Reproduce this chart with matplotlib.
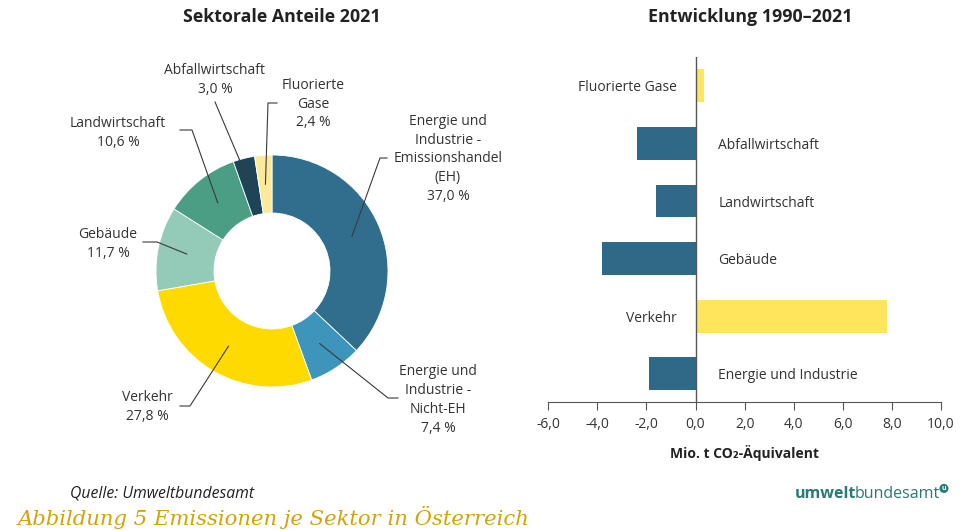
import numpy as np
import matplotlib
matplotlib.use("Agg")
import matplotlib.pyplot as plt
from matplotlib.lines import Line2D

plt.rcParams['font.family'] = ['Open Sans', 'DejaVu Sans']

# ---------------- data ----------------
pie_labels = ["Energie und\nIndustrie -\nEmissionshandel\n(EH)", "Energie und\nIndustrie -\nNicht-EH",
              "Verkehr", "Gebäude", "Landwirtschaft", "Abfallwirtschaft", "Fluorierte\nGase"]
pie_values = [37.0, 7.4, 27.8, 11.7, 10.6, 3.0, 2.4]
pie_colors = ["#316e8e", "#3d95bc", "#ffda00", "#93cbb8", "#4b9e84", "#1d4557", "#fcea9c"]

bar_categories = ["Energie und Industrie", "Verkehr", "Gebäude", "Landwirtschaft",
                  "Abfallwirtschaft", "Fluorierte Gase"]
bar_values = [-1.9, 7.8, -3.8, -1.6, -2.4, 0.35]
bar_ticks = [-6, -4, -2, 0, 2, 4, 6, 8, 10]

W, H = 973, 531
fig = plt.figure(figsize=(W / 100, H / 100), dpi=100)

TXT = "#333333"
FS = 10

# ---------------- donut ----------------
cx, cy, R = 272, 271, 116
axp = fig.add_axes([(cx - R) / W, (H - cy - R) / H, 2 * R / W, 2 * R / H])
wedges, _ = axp.pie(pie_values, colors=pie_colors, startangle=90, counterclock=False,
                    radius=1, wedgeprops=dict(width=0.5, edgecolor="white", linewidth=0.6))
axp.set_xlim(-1, 1)
axp.set_ylim(-1, 1)
axp.set_axis_off()

# overlay in pixel coordinates for labels / leader lines
ov = fig.add_axes([0, 0, 1, 1])
ov.set_xlim(0, W)
ov.set_ylim(H, 0)
ov.set_axis_off()
ov.patch.set_alpha(0)

label_pos = [(448, 159), (438, 400), (147, 407), (108, 244), (118, 133), (215, 80), (313, 104)]
elbows = [[(387, 158), (380, 158)], [(398, 398), (388, 398)], [(180, 406), (190, 406)],
          [(143, 242), (157, 242)], [(180, 130), (192, 130)], [(215, 102)], [(277, 103), (268, 103)]]

total = sum(pie_values)
cum = 0
for lab, val, pos, elb in zip(pie_labels, pie_values, label_pos, elbows):
    mid = (cum + val / 2) / total
    cum += val
    ang = np.deg2rad(90 - 360 * mid)
    ex = cx + 0.75 * R * np.cos(ang)
    ey = cy - 0.75 * R * np.sin(ang)
    pts = list(elb) + [(ex, ey)]
    ov.add_line(Line2D([p[0] for p in pts], [p[1] for p in pts], color="#3a3a3a", lw=0.8))
    txt = f"{lab}\n{val:.1f} %".replace(".", ",")
    ov.text(pos[0], pos[1], txt, ha="center", va="center", fontsize=FS, color=TXT,
            linespacing=1.35)

fig.text(282 / W, 1 - 17 / H, "Sektorale Anteile 2021", ha="center", va="center",
         fontsize=12.8, fontweight="bold", color="#222222")
fig.text(750 / W, 1 - 17 / H, "Entwicklung 1990–2021", ha="center", va="center",
         fontsize=12.8, fontweight="bold", color="#222222")

# ---------------- bars ----------------
axb = fig.add_axes([548.3 / W, (H - 402) / H, 392.7 / W, 345 / H])
ypos = np.arange(len(bar_categories))
cols = ["#ffe55c" if v > 0 else "#2e6a87" for v in bar_values]
axb.barh(ypos, bar_values, height=0.57, color=cols)
axb.set_xlim(-6, 10)
axb.set_ylim(-0.49, 5.5)
axb.axvline(0, color="#555555", lw=1)
for s in ["top", "right", "left"]:
    axb.spines[s].set_visible(False)
axb.spines["bottom"].set_color("#555555")
axb.set_yticks([])
axb.set_xticks(bar_ticks)
axb.set_xticklabels([f"{t:.1f}".replace(".", ",") for t in bar_ticks], fontsize=FS, color=TXT)
axb.tick_params(axis="x", direction="out", length=6, color="#555555", pad=5)
for y, v, c in zip(ypos, bar_values, bar_categories):
    if v < 0:
        axb.annotate(c, xy=(0, y), xytext=(16.5, -1.5), textcoords="offset points",
                     ha="left", va="center", fontsize=FS, color=TXT)
    else:
        axb.annotate(c, xy=(0, y), xytext=(-13.5, -1.5), textcoords="offset points",
                     ha="right", va="center", fontsize=FS, color=TXT)
axb.set_xlabel("Mio. t CO₂-Äquivalent", fontsize=FS, fontweight="bold", color="#222222",
               labelpad=9)

# ---------------- footer ----------------
fig.text(70 / W, 1 - 494 / H, "Quelle: Umweltbundesamt", ha="left", va="center",
         fontsize=11.3, style="italic", color="#222222")
fig.text(18 / W, 1 - 517 / H, "Abbildung 5 Emissionen je Sektor in Österreich", ha="left",
         va="center", fontsize=15.2, style="italic", family="DejaVu Serif", color="#d4a20c")
t1 = fig.text(795 / W, 1 - 494 / H, "umwelt", ha="left", va="center", fontsize=11.5,
              fontweight="bold", color="#2a7a77")
t2 = ov.annotate("bundesamt", xy=(1, 0), xycoords=t1, xytext=(-1.5, 0),
                 textcoords="offset points", ha="left", va="bottom",
                 fontsize=11.5, color="#2f7774")
ov.annotate("u", xy=(1, 0.85), xycoords=t2, xytext=(1.5, 0), textcoords="offset points",
            ha="left", va="center", fontsize=5, color="white", fontweight="bold",
            bbox=dict(boxstyle="circle,pad=0.15", fc="#2a7a77", ec="none"))

fig.savefig("out.png", dpi=100)
